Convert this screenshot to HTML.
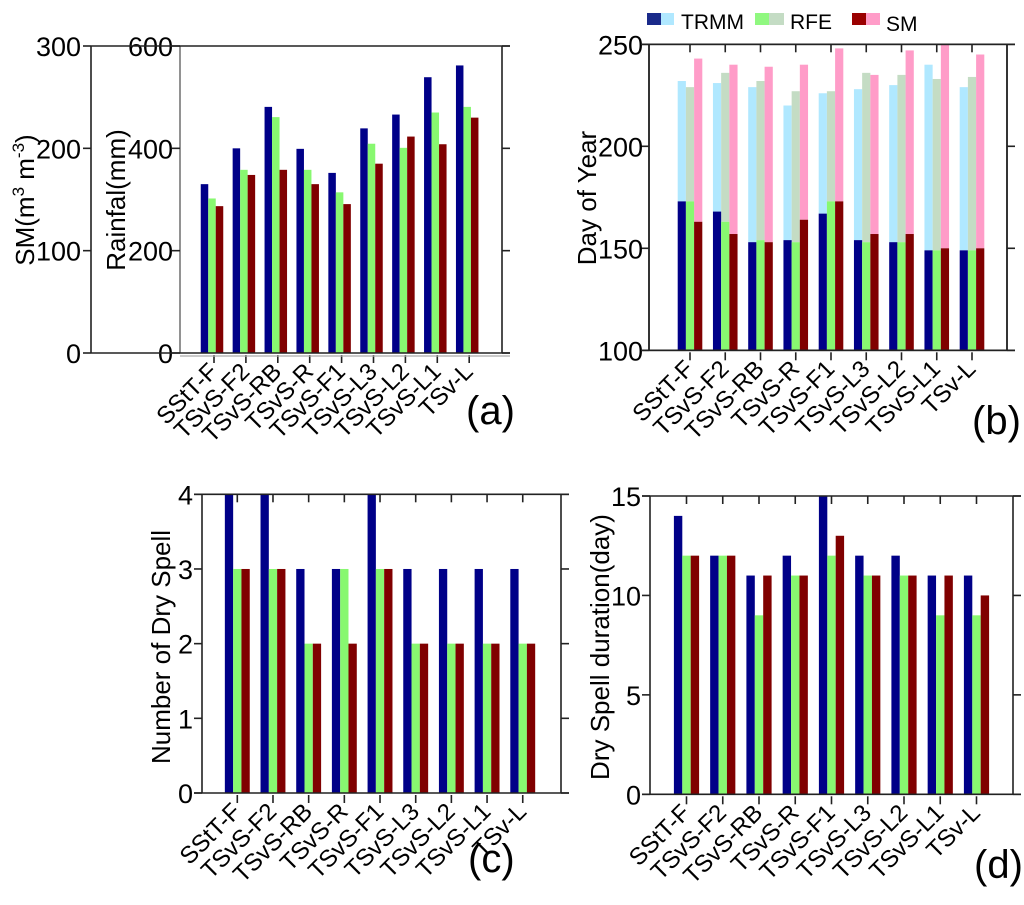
<!DOCTYPE html>
<html><head><meta charset="utf-8"><style>
body{margin:0;background:#fff}
svg{display:block;font-family:"Liberation Sans",sans-serif}
</style></head><body>
<svg id="fig" width="1024" height="905" viewBox="0 0 1024 905">
<g id="legend">
 <g><rect x="647" y="13" width="14" height="12" fill="#1a2a8a"/><rect x="661" y="13" width="13" height="12" fill="#b0e8ff"/><text x="681" y="29" font-size="21">TRMM</text></g>
 <g><rect x="755" y="13" width="14" height="12" fill="#90f880"/><rect x="769" y="13" width="15" height="12" fill="#c4dcc4"/><text x="790" y="29" font-size="21">RFE</text></g>
 <g><rect x="852" y="13" width="14" height="12" fill="#9a0000"/><rect x="866" y="13" width="14" height="12" fill="#ff9cc8"/><text x="886" y="31" font-size="21">SM</text></g>
</g>
</svg>
<script>
const categories=["SStT-F","TSvS-F2","TSvS-RB","TSvS-R","TSvS-F1","TSvS-L3","TSvS-L2","TSvS-L1","TSv-L"];
// (a) rainfall (mm)
const rainTRMM=[330,400,481,399,352,439,466,539,562];
const rainRFE=[302,358,461,358,314,409,401,470,481];
const rainSM=[287,348,358,330,291,370,423,408,460];
// (b) day of year: start & end
const startTRMM=[173,168,153,154,167,154,153,149,149];
const startRFE=[173,163,154,153,173,153,153,149,149];
const startSM=[163,157,153,164,173,157,157,150,150];
const endTRMM=[232,231,229,220,226,228,230,240,229];
const endRFE=[229,236,232,227,227,236,235,233,234];
const endSM=[243,240,239,240,248,235,247,250,245];
// (c) number of dry spells
const nTRMM=[4,4,3,3,4,3,3,3,3];
const nRFE=[3,3,2,3,3,2,2,2,2];
const nSM=[3,3,2,2,3,2,2,2,2];
// (d) dry spell duration
const dTRMM=[14,12,11,12,15,12,12,11,11];
const dRFE=[12,12,9,11,12,11,11,9,9];
const dSM=[12,12,11,11,13,11,11,11,10];
const aTicks=[0,200,400,600];
const smTicks=[0,100,200,300];
const bTicks=[100,150,200,250];
const cTicks=[0,1,2,3,4];
const dTicks=[0,5,10,15];

const NS="http://www.w3.org/2000/svg";
const svg=document.getElementById('fig');
const C={b:"#000088",g:"#88f870",r:"#800000",lb:"#b0e8ff",lg:"#c4dcc4",lr:"#ff9cc8"};
function el(tag,attrs,parent){const e=document.createElementNS(NS,tag);for(const k in attrs)e.setAttribute(k,attrs[k]);(parent||svg).appendChild(e);return e;}
function line(x1,y1,x2,y2,p,c,w){return el('line',{x1,y1,x2,y2,stroke:c||'#222','stroke-width':w||1.6},p);}
function txt(s,x,y,attrs,p){const t=el('text',Object.assign({x,y},attrs),p);t.textContent=s;return t;}

function panel(cfg){
 const g=el('g',{});
 
 
 const y=v=>cfg.bottom-(v-cfg.min)/(cfg.max-cfg.min)*(cfg.bottom-cfg.top);
 const x=i=>cfg.x0+i*cfg.dx;
 const w=cfg.bw;
 cfg.series.forEach((s,si)=>{
  s.vals.forEach((v,i)=>{
   const bx=x(i)+cfg.off+(si-1)*w-w/2;
   const base=s.base?y(s.base[i]):cfg.bottom;
   const top=y(v);
   const r=el('rect',{x:bx,y:Math.min(top,base),width:w,height:Math.abs(base-top),fill:s.color},g);
   
   
  });
 });
 const fr=el('g',{},g);
 
 
 line(cfg.left,cfg.top,cfg.left,cfg.bottom,fr,cfg.leftColor);
 line(cfg.right,cfg.top,cfg.right,cfg.bottom,fr);
 line(cfg.axStart,cfg.top,cfg.right+8,cfg.top,fr);
 line(cfg.axStart,cfg.bottom,cfg.right+8,cfg.bottom,fr);
 cfg.ticks.forEach(v=>{
  const yy=y(v);
  line(cfg.left-8,yy,cfg.left,yy,fr);
  line(cfg.right,yy,cfg.right+8,yy,fr);
  const t=txt(String(v),cfg.left-(cfg.labGap||9),yy+10,{'font-size':27,'text-anchor':'end'},g);
  
  
 });
 if(cfg.xlabels!==false) categories.forEach((c,i)=>{
  line(x(i),cfg.bottom+2,x(i),cfg.bottom+10,fr);
  if(cfg.topTicks)line(x(i),cfg.top,x(i),cfg.top+8,fr);
  const t=txt(c,0,0,{'font-size':24,'text-anchor':'end',transform:`translate(${x(i)+5},${cfg.bottom+20}) rotate(-45)`},g);
  
  
 });
 if(cfg.ytitle){
 const yt=txt(cfg.ytitle,0,0,{'font-size':26,'text-anchor':'middle',transform:`translate(${cfg.tx},${cfg.ty}) rotate(-90)`},g);
 
 
 }
 if(cfg.label){
 const pl=txt(cfg.label,cfg.lx,cfg.ly,{'font-size':40},g);
 
 
 }
 return {g,y};
}

// (a)
panel({name:'panel-a-rainfall',top:46,bottom:353,min:0,max:600,left:180,right:502,axStart:180,leftColor:'#777',
 x0:214,dx:31.9,bw:7.5,off:-2,ticks:aTicks,labGap:7,ytitle:'Rainfal(mm)',tx:125,ty:200,label:'(a)',lx:466,ly:424,
 series:[{key:'trmm',vals:rainTRMM,color:C.b},{key:'rfe',vals:rainRFE,color:C.g},{key:'sm',vals:rainSM,color:C.r}]});
{
 const g=el('g',{});
 
 
 line(91,46,91,353,g);
 line(91,46,180,46,g);line(91,353,180,353,g);
 line(180,356,510,356,g,'#aaa',1.2);
 smTicks.forEach(v=>{const yy=353-v/300*307;line(83,yy,91,yy,g);
  const t=txt(String(v),81,yy+10,{'font-size':27,'text-anchor':'end'},g);
  
  });
 const t=el('text',{'font-size':26,'text-anchor':'middle',transform:'translate(34,200) rotate(-90)'},g);
 t.innerHTML='SM(m<tspan dy="-10" font-size="17">3</tspan><tspan dy="10"> m</tspan><tspan dy="-10" font-size="17">-3</tspan><tspan dy="10">)</tspan>';
 
 
}
// (b)
panel({name:'panel-b-day-of-year',top:44.3,bottom:350.3,min:100,max:250,left:649,right:1007,axStart:641,topTicks:true,
 x0:690,dx:35.25,bw:8.2,off:0,ticks:bTicks,labGap:6,ytitle:'Day of Year',tx:596,ty:198,label:'(b)',lx:972,ly:434,
 series:[{key:'trmm-window',vals:endTRMM,base:startTRMM,color:C.lb},{key:'rfe-window',vals:endRFE,base:startRFE,color:C.lg},{key:'sm-window',vals:endSM,base:startSM,color:C.lr}]});
panel({name:'panel-b-onset',top:44.3,bottom:350.3,min:100,max:250,left:649,right:1007,axStart:641,xlabels:false,
 x0:690,dx:35.25,bw:8.2,off:0,ticks:[],ytitle:'',label:'',
 series:[{key:'trmm-onset',vals:startTRMM,color:C.b},{key:'rfe-onset',vals:startRFE,color:C.g},{key:'sm-onset',vals:startSM,color:C.r}]});
// (c)
panel({name:'panel-c-dry-spell-count',top:494.3,bottom:793,min:0,max:4,left:202,right:561,axStart:194,topTicks:true,
 x0:237.3,dx:35.68,bw:8.3,off:0,ticks:cTicks,ytitle:'Number of Dry Spell',tx:170,ty:647,label:'(c)',lx:468,ly:872,
 series:[{key:'trmm',vals:nTRMM,color:C.b},{key:'rfe',vals:nRFE,color:C.g},{key:'sm',vals:nSM,color:C.r}]});
// (d)
panel({name:'panel-d-dry-spell-duration',top:496,bottom:794.3,min:0,max:15,left:650,right:1013,axStart:642,topTicks:true,
 x0:686.5,dx:36.25,bw:8.4,off:0,ticks:dTicks,ytitle:'Dry Spell duration(day)',tx:609,ty:647,label:'(d)',lx:974,ly:878,
 series:[{key:'trmm',vals:dTRMM,color:C.b},{key:'rfe',vals:dRFE,color:C.g},{key:'sm',vals:dSM,color:C.r}]});
</script>
</body></html>
